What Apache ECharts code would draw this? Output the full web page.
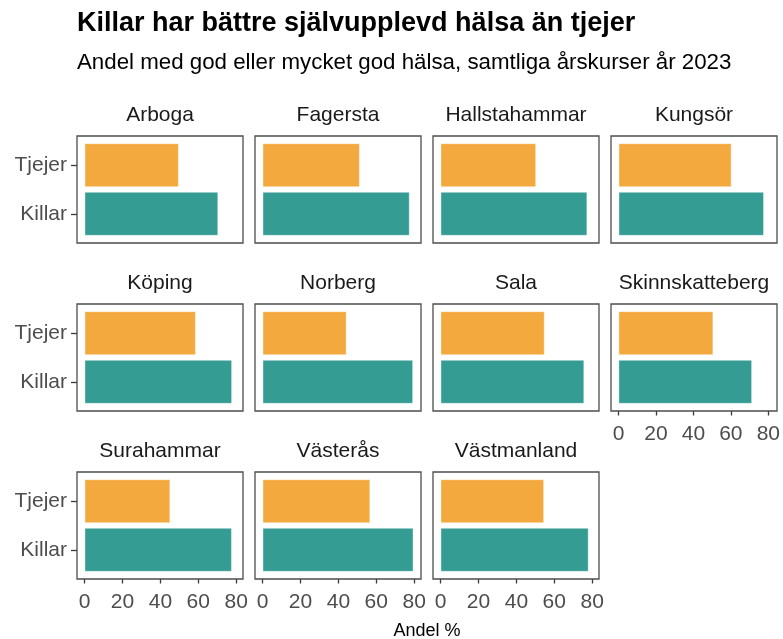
<!DOCTYPE html>
<html>
<head>
<meta charset="utf-8">
<script src="https://cdn.jsdelivr.net/npm/echarts@6/dist/echarts.min.js"></script>
<style>
  html, body { margin: 0; padding: 0; background: #fff; }
  #chart { width: 783px; height: 639px; }
</style>
</head>
<body>
<div id="chart"></div>
<script>
// data
var kommuner = ['Arboga', 'Fagersta', 'Hallstahammar', 'Kungsör', 'Köping', 'Norberg',
	'Sala', 'Skinnskatteberg', 'Surahammar', 'Västerås', 'Västmanland'];
var kon = ['Killar', 'Tjejer'];
var tjejer = [49.7, 51.3, 50.4, 59.6, 58.7, 44.3, 54.9, 50.6, 45.2, 56.8, 54.6];
var killar = [70.5, 77.6, 77.4, 76.7, 77.8, 79.4, 75.8, 71.3, 77.7, 79.6, 78.1];
var xTicks = [0, 20, 40, 60, 80];

var FONT = '"Liberation Sans", Arial, sans-serif';
var colKillar = '#349C93';
var colTjejer = '#F3A93D';

// panel layout (frame boxes)
var colLeft = [77, 255, 433, 611];
var rowTop = [136, 304, 472];
var panelW = 166, panelH = 107;
// ggplot-style category expansion: 0.6 units each side of 2 categories
var inset = panelH * 0.1 / 2.2;
var band = panelH / 2.2;

var grids = [], xAxes = [], yAxes = [], series = [], graphics = [];

kommuner.forEach(function (namn, i) {
	var c = i % 4, r = Math.floor(i / 4);
	var showY = (c === 0);
	var showX = (r === 2) || (i === 7);
	grids.push({
		left: colLeft[c], top: rowTop[r] + inset, width: panelW, height: panelH - 2 * inset
	});
	xAxes.push({
		gridIndex: i, type: 'value', min: -4, max: 83.6, offset: inset,
		axisLine: { show: false, onZero: false },
		splitLine: { show: false },
		axisTick: { show: showX, length: 4.5, lineStyle: { color: '#3a3a3a', width: 1.3 }, customValues: xTicks },
		axisLabel: { show: showX, customValues: xTicks, color: '#4d4d4d', fontSize: 21, fontFamily: FONT, margin: 13 }
	});
	yAxes.push({
		gridIndex: i, type: 'category', data: kon,
		axisLine: { show: false, onZero: false },
		axisTick: { show: showY, alignWithLabel: true, length: 6, lineStyle: { color: '#3a3a3a', width: 1.3 } },
		axisLabel: { show: showY, color: '#4d4d4d', fontSize: 21, fontFamily: FONT, margin: 10 }
	});
	series.push({
		type: 'bar', xAxisIndex: i, yAxisIndex: i, barWidth: band * 0.9, silent: true,
		data: [
			{ value: killar[i], itemStyle: { color: colKillar } },
			{ value: tjejer[i], itemStyle: { color: colTjejer } }
		],
		itemStyle: { borderColor: 'rgba(255,255,255,0.5)', borderWidth: 0.8 }
	});
	// panel frame
	graphics.push({
		type: 'rect', z: 100, silent: true,
		shape: { x: colLeft[c], y: rowTop[r], width: panelW, height: panelH },
		style: { fill: null, stroke: '#4d4d4d', lineWidth: 1.3 }
	});
	// strip label
	graphics.push({
		type: 'text', x: colLeft[c] + panelW / 2, y: rowTop[r] - 20.5,
		style: { text: namn, textAlign: 'center', textVerticalAlign: 'middle',
			fill: '#1a1a1a', font: '21px ' + FONT }
	});
});

graphics.push({
	type: 'text', x: 77, y: 24,
	style: { text: 'Killar har bättre självupplevd hälsa än tjejer', textAlign: 'left',
		textVerticalAlign: 'middle', fill: '#000', font: 'bold 27px ' + FONT }
});
graphics.push({
	type: 'text', x: 77, y: 63,
	style: { text: 'Andel med god eller mycket god hälsa, samtliga årskurser år 2023', textAlign: 'left',
		textVerticalAlign: 'middle', fill: '#000', font: '22.3px ' + FONT }
});
graphics.push({
	type: 'text', x: 427, y: 631,
	style: { text: 'Andel %', textAlign: 'center', textVerticalAlign: 'middle',
		fill: '#000', font: '18px ' + FONT }
});

var myChart = echarts.init(document.getElementById('chart'), null, { renderer: 'canvas' });
myChart.setOption({
	animation: false,
	grid: grids,
	xAxis: xAxes,
	yAxis: yAxes,
	series: series,
	graphic: graphics
});
</script>
</body>
</html>
